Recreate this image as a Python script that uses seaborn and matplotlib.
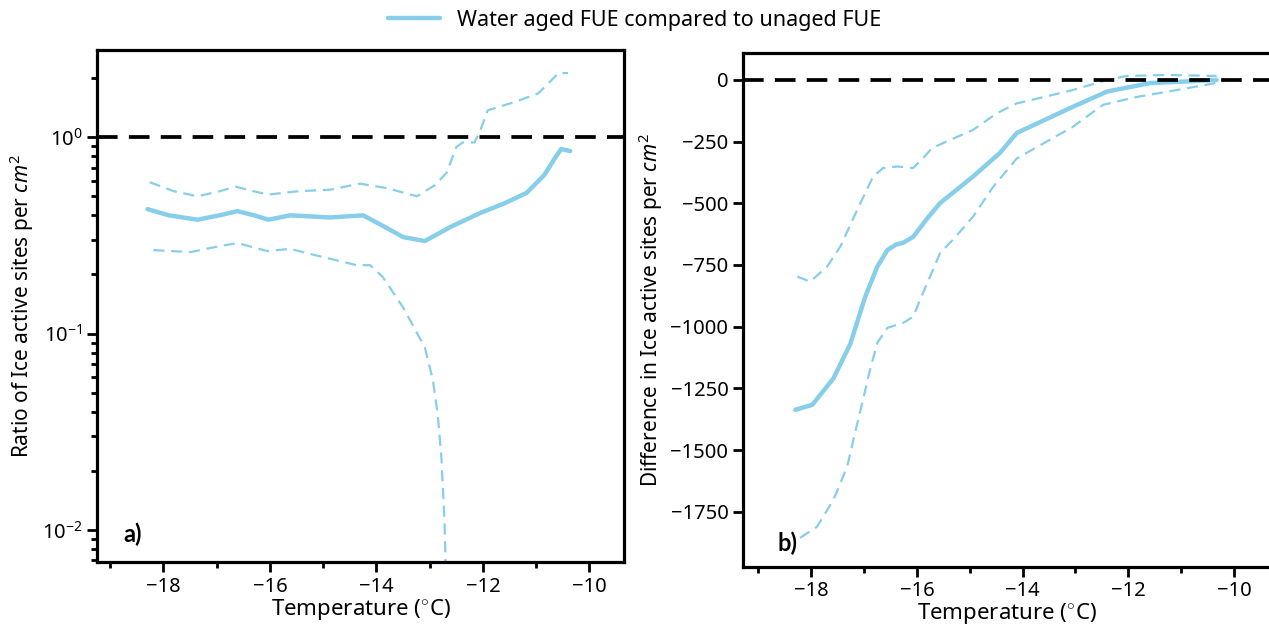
import numpy as np
import pandas as pd
import seaborn as sns
import matplotlib.pyplot as plt
from matplotlib.lines import Line2D
from matplotlib.ticker import MultipleLocator

# panel a) ratio water aged / unaged FUE
t_ratio = [-18.30, -17.9, -17.36, -16.95, -16.61, -16.3, -16.03, -15.62, -14.87, -14.25,
           -13.9, -13.5, -13.09, -12.6, -12.06, -11.6, -11.18, -10.85, -10.65, -10.53, -10.36]
ratio = [0.43, 0.40, 0.38, 0.40, 0.42, 0.40, 0.38, 0.40, 0.39, 0.40,
         0.356, 0.31, 0.296, 0.35, 0.41, 0.46, 0.52, 0.64, 0.78, 0.87, 0.85]

t_ratio_hi = [-18.26, -17.8, -17.36, -16.95, -16.65, -16.3, -16.03, -15.49, -14.87, -14.31,
              -13.8, -13.24, -12.9, -12.68, -12.5, -12.38, -12.16, -12.06, -11.91, -11.4,
              -10.96, -10.58, -10.4]
ratio_hi = [0.59, 0.53, 0.50, 0.53, 0.56, 0.53, 0.51, 0.53, 0.54, 0.58,
            0.55, 0.50, 0.57, 0.66, 0.89, 0.94, 0.94, 1.06, 1.37, 1.51,
            1.67, 2.12, 2.12]

t_ratio_lo = [-18.19, -17.49, -17.0, -16.61, -16.05, -15.62, -15.0, -14.37, -14.12, -13.88,
              -13.5, -13.09, -12.94, -12.85, -12.78, -12.72, -12.68]
ratio_lo = [0.266, 0.26, 0.277, 0.289, 0.263, 0.27, 0.245, 0.223, 0.223, 0.194,
            0.136, 0.085, 0.058, 0.039, 0.0235, 0.0109, 0.004]

# panel b) difference water aged - unaged FUE
t_diff = [-18.30, -17.98, -17.58, -17.26, -16.98, -16.75, -16.56, -16.4, -16.26, -16.07,
          -15.8, -15.56, -14.94, -14.43, -14.11, -13.67, -13.05, -12.40, -11.59, -10.97,
          -10.33]
diff = [-1337, -1317, -1210, -1070, -880, -757, -690, -668, -660, -636,
        -560, -499, -392, -296, -215, -171, -109, -47, -13, -7,
        0]

t_diff_hi = [-18.26, -18.02, -17.70, -17.45, -17.13, -16.83, -16.64, -16.37, -16.07, -15.88,
             -15.71, -15.37, -14.94, -14.48, -14.11, -13.67, -13.05, -12.40, -12.03, -11.27,
             -10.33]
diff_hi = [-797, -818, -757, -676, -527, -392, -357, -351, -357, -316,
           -276, -243, -203, -134, -95, -73, -41, 0, 16, 20,
           16]

t_diff_lo = [-18.21, -17.89, -17.58, -17.32, -17.17, -17.02, -16.92, -16.75, -16.56, -16.26,
             -16.07, -15.94, -15.56, -15.32, -14.94, -14.56, -14.11, -13.67, -13.05, -12.48,
             -11.84, -11.08, -10.33]
diff_lo = [-1856, -1811, -1702, -1568, -1430, -1297, -1203, -1066, -1005, -985,
           -960, -891, -701, -648, -555, -434, -318, -265, -190, -101,
           -69, -41, -12]

sns.set_style('ticks', {'axes.edgecolor': 'black', 'xtick.color': 'black',
                        'ytick.color': 'black', 'text.color': 'black',
                        'axes.labelcolor': 'black'})
plt.rcParams['font.family'] = ['Noto Sans', 'DejaVu Sans']
plt.rcParams['mathtext.fontset'] = 'custom'
plt.rcParams['mathtext.rm'] = 'Noto Sans'
plt.rcParams['mathtext.it'] = 'Noto Sans:italic'

blue = '#87CEEB'

fig = plt.figure(figsize=(12.69, 6.28), dpi=100)
ax1 = fig.add_axes([0.0764, 0.1050, 0.4153, 0.8150])
ax2 = fig.add_axes([0.5855, 0.0976, 0.4153, 0.8180])


def draw(ax, t, m, t_hi, hi, t_lo, lo):
    sns.lineplot(x=t, y=m, ax=ax, color=blue, lw=3.2, sort=False)
    for tt, vv in [(t_hi, hi), (t_lo, lo)]:
        sns.lineplot(x=tt, y=vv, ax=ax, color=blue, lw=1.6, sort=False,
                     linestyle=(0, (5, 3)))


draw(ax1, t_ratio, ratio, t_ratio_hi, ratio_hi, t_ratio_lo, ratio_lo)
ax1.set_yscale('log')
ax1.axhline(1, color='black', lw=2.7, linestyle=(0, (5.5, 3)))
ax1.set_ylim(0.00687, 2.77)
ax1.set_xlim(-19.25, -9.35)
ax1.set_ylabel('Ratio of Ice active sites per $cm^2$', fontsize=15)
ax1.text(0.05, 0.055, 'a)', transform=ax1.transAxes, fontsize=17,
         fontweight='bold', va='center', family='Lato')

draw(ax2, t_diff, diff, t_diff_hi, diff_hi, t_diff_lo, diff_lo)
ax2.axhline(0, color='black', lw=2.7, linestyle=(0, (5.5, 3)))
ax2.set_ylim(-1973, 109)
ax2.set_xlim(-19.29, -9.32)
ax2.set_yticks([0, -250, -500, -750, -1000, -1250, -1500, -1750])
ax2.set_ylabel('Difference in Ice active sites per $cm^2$', fontsize=15)
ax2.text(0.065, 0.045, 'b)', transform=ax2.transAxes, fontsize=17,
         fontweight='bold', va='center', family='Lato')

for ax in (ax1, ax2):
    ax.set_xlabel('Temperature ($^{\\circ}$C)', fontsize=16, labelpad=0)
    ax.xaxis.set_major_locator(MultipleLocator(2))
    ax.xaxis.set_minor_locator(MultipleLocator(1))
    ax.tick_params(axis='both', which='major', labelsize=14.5, width=2, length=7,
                   direction='out')
    ax.tick_params(axis='both', which='minor', width=2, length=4, direction='out')
    for s in ax.spines.values():
        s.set_linewidth(2.3)

handle = Line2D([], [], color=blue, lw=3.2)
fig.legend([handle], ['Water aged FUE compared to unaged FUE'], loc='upper center',
           bbox_to_anchor=(0.5, 1.015), frameon=False, fontsize=15.5, handlelength=2.4)

fig.savefig('out.png', dpi=100)
